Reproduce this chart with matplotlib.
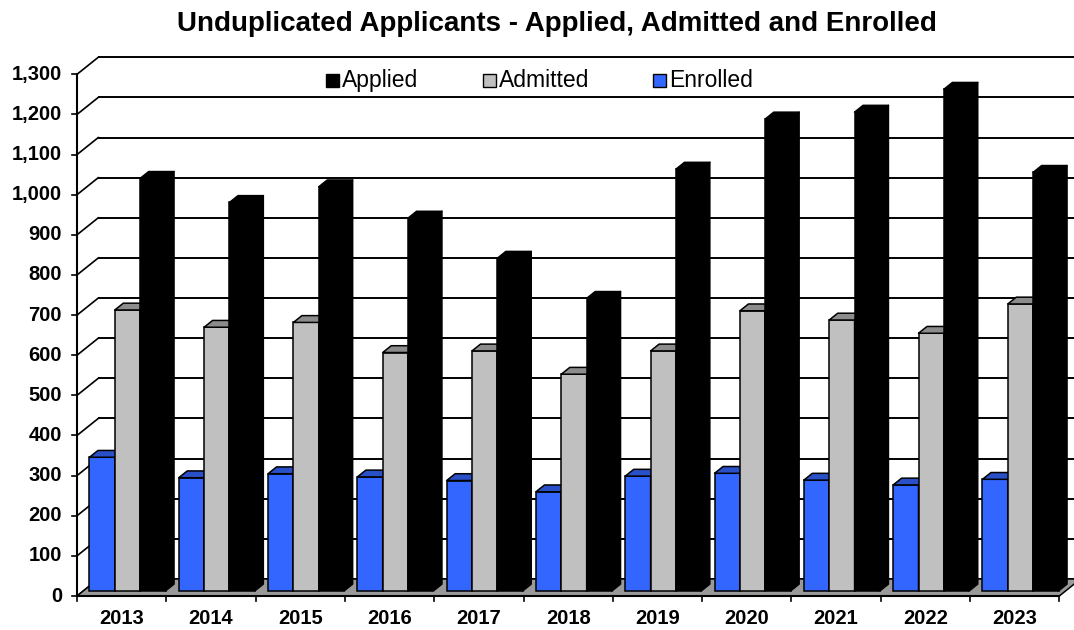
import matplotlib
matplotlib.use("Agg")
import matplotlib.pyplot as plt
from matplotlib.patches import Polygon, Rectangle

plt.rcParams["font.family"] = ["Liberation Sans", "DejaVu Sans"]

YEARS = ["2013", "2014", "2015", "2016", "2017", "2018",
         "2019", "2020", "2021", "2022", "2023"]
APPLIED = [1028, 968, 1007, 929, 829, 729, 1051, 1176, 1193, 1250, 1043]
ADMITTED = [700, 657, 669, 594, 598, 540, 598, 698, 675, 642, 715]
ENROLLED = [333, 282, 292, 284, 275, 247, 286, 293, 276, 264, 278]
Y_TICKS = list(range(0, 1301, 100))

TITLE = "Unduplicated Applicants - Applied, Admitted and Enrolled"

# fake 3D: depth offset of the back wall, in category / value units
DEPTH_X = 0.238
DEPTH_Y = 42.4
BAR_FRONT = 0.3   # bars sit between 30% and 70% of the depth
BAR_BACK = 0.7
BAR_W = 0.284
BAR_START = 0.068

# pixel scale of the axes (category width, px per value unit)
PX_CAT = 89.3
PX_VAL = 0.4013
X0_PX, Y0_PX = 77, 596
W_PX, H_PX = 1074, 630

LW = 1.1


def bar3d(ax, xs, vals, fc, top_c, z):
    fx, fy = BAR_FRONT * DEPTH_X, BAR_FRONT * DEPTH_Y
    bx, by = BAR_BACK * DEPTH_X, BAR_BACK * DEPTH_Y
    for x, v in zip(xs, vals):
        ax.bar(x + fx, v, width=BAR_W, bottom=fy, align="edge",
               color=fc, edgecolor="black", linewidth=LW, zorder=z)
        top = [(x + fx, fy + v), (x + fx + BAR_W, fy + v),
               (x + bx + BAR_W, by + v), (x + bx, by + v)]
        side = [(x + fx + BAR_W, fy), (x + bx + BAR_W, by),
                (x + bx + BAR_W, by + v), (x + fx + BAR_W, fy + v)]
        ax.add_patch(Polygon(top, closed=True, fc=top_c, ec="black",
                             lw=LW, zorder=z, joinstyle="round"))
        ax.add_patch(Polygon(side, closed=True, fc=top_c, ec="black",
                             lw=LW, zorder=z, joinstyle="round"))


def main():
    n = len(YEARS)
    fig = plt.figure(figsize=(W_PX / 100, H_PX / 100), dpi=100)
    fig.patch.set_facecolor("white")
    ax = fig.add_axes([0, 0, 1, 1])
    ax.set_xlim(-X0_PX / PX_CAT, (W_PX - X0_PX) / PX_CAT)
    ax.set_ylim(-(H_PX - Y0_PX) / PX_VAL, Y0_PX / PX_VAL)
    ax.axis("off")

    # back wall gridlines + left wall diagonals
    for t in Y_TICKS:
        ax.plot([DEPTH_X, n + DEPTH_X], [t + DEPTH_Y] * 2, color="black",
                lw=1.4, zorder=1, solid_capstyle="butt")
        ax.plot([0, DEPTH_X], [t, t + DEPTH_Y], color="black", lw=1.2, zorder=1)
        ax.plot([-5 / PX_CAT, 0], [t, t], color="black", lw=1.2, zorder=6)
        ax.text(-15 / PX_CAT, t, f"{t:,}", ha="right", va="center",
                fontsize=14.5, fontweight="bold")

    # floor
    floor = [(0, 0), (n, 0), (n + DEPTH_X, DEPTH_Y), (DEPTH_X, DEPTH_Y)]
    ax.add_patch(Polygon(floor, closed=True, fc="#999999", ec="black",
                         lw=LW, zorder=2))

    # front axes
    ax.plot([0, 0], [0, Y_TICKS[-1]], color="black", lw=1.5, zorder=6)
    ax.plot([0, n], [0, 0], color="black", lw=1.5, zorder=6)
    for i in range(n + 1):
        ax.plot([i, i], [0, -12.5], color="black", lw=1.2, zorder=6)
    for i, yr in enumerate(YEARS):
        ax.text(i + 0.5, -57, yr, ha="center", va="center",
                fontsize=14.5, fontweight="bold")

    series = [
        (ENROLLED, "#3366ff", "#2a50c8", 3),
        (ADMITTED, "#c0c0c0", "#8c8c8c", 4),
        (APPLIED, "#000000", "#000000", 5),
    ]
    for j, (vals, fc, top_c, z) in enumerate(series):
        xs = [i + BAR_START + j * BAR_W for i in range(n)]
        bar3d(ax, xs, vals, fc, top_c, z)

    # legend, drawn by hand like the original
    legend = [("Applied", "#000000", 325.7), ("Admitted", "#c0c0c0", 482.7),
              ("Enrolled", "#3366ff", 652.7)]
    ly = (Y0_PX - 80.3) / PX_VAL
    sq_w, sq_h = 13 / PX_CAT, 13 / PX_VAL
    for label, col, px in legend:
        x = (px - X0_PX) / PX_CAT
        ax.add_patch(Rectangle((x, ly - sq_h / 2), sq_w, sq_h, fc=col,
                               ec="black", lw=1.0, zorder=7))
        ax.text(x + sq_w + 3 / PX_CAT, ly, label, ha="left", va="center",
                fontsize=16.5, zorder=7)

    fig.text(557 / W_PX, 1 - 24 / H_PX, TITLE, ha="center", va="center",
             fontsize=20, fontweight="bold")

    fig.savefig("out.png", dpi=100, facecolor="white")
    plt.close(fig)


if __name__ == "__main__":
    main()
